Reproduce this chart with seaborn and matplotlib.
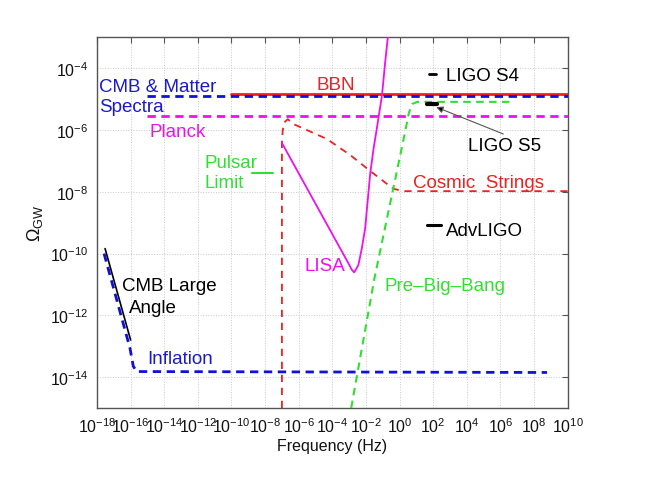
import numpy as np
import pandas as pd
import matplotlib
matplotlib.use("Agg")
import matplotlib.pyplot as plt
import seaborn as sns

# ---- data (log10 values) ----
bbn_logf = [-10.0, 10.0]
bbn_logo = [-4.84, -4.84]

cmb_matter_logf = [-15.0, 10.0]
cmb_matter_logo = [-4.89, -4.89]

planck_logf = [-15.0, 10.0]
planck_logo = [-5.56, -5.56]

pulsar_logf = [-8.8, -7.52]
pulsar_logo = [-7.39, -7.39]

strings_logf = [-7.0, -7.0, -6.95, -6.85, -6.65, -6.31, -4.33, -2.94, -1.65, -0.38, 0.2, 10.0]
strings_logo = [-15.0, -6.4, -6.0, -5.75, -5.65, -5.81, -6.29, -6.81, -7.37, -7.9, -7.98, -7.98]

lisa_logf = [-7.0, -3.04, -2.85, -2.70, -2.45, -2.25, -2.05, -1.75, -1.55, -1.36, -1.05, -0.86, -0.70]
lisa_logo = [-6.42, -10.32, -10.52, -10.61, -10.37, -9.84, -9.19, -7.42, -6.61, -5.97, -4.89, -3.82, -3.0]

pbb_logf = [-2.88, -1.5, 0.04, 0.35, 0.55, 0.75, 1.05, 6.68]
pbb_logo = [-15.0, -10.81, -6.81, -6.0, -5.45, -5.16, -5.09, -5.09]

inflation_logf = [-17.58, -16.04, -15.84, -15.64, 8.77]
inflation_logo = [-10.0, -13.06, -13.65, -13.82, -13.85]

cmb_large_logf = [-17.52, -16.0]
cmb_large_logo = [-9.84, -12.8]

ligo_s4_logf = [1.76, 2.18]
ligo_s4_logo = [-4.19, -4.19]

ligo_s5_logf = [1.66, 2.2]
ligo_s5_logo = [-5.16, -5.16]

advligo_logf = [1.62, 2.46]
advligo_logo = [-9.09, -9.09]

xtick_exps = list(range(-18, 11, 2))
ytick_exps = list(range(-14, -3, 2))

# ---- style ----
sns.set_theme(style="white")
plt.rcParams["font.family"] = ["Liberation Sans", "DejaVu Sans"]
plt.rcParams["mathtext.fontset"] = "custom"
plt.rcParams["mathtext.rm"] = "Liberation Sans"
plt.rcParams["mathtext.it"] = "Liberation Sans:italic"
plt.rcParams["mathtext.bf"] = "Liberation Sans:bold"

RED = "#ee2020"
BLUE = "#1010d8"
MAG = "#ee10ee"
GREEN = "#30e030"
BLACK = "#000000"

fig = plt.figure(figsize=(6.6, 4.85), dpi=100)
ax = fig.add_axes([97 / 660, 76 / 485, 470.7 / 660, 370.7 / 485])
ax.set_xscale("log")
ax.set_yscale("log")


def draw(lf, lo, color, lw, ls="-", z=2):
    df = pd.DataFrame({"f": np.power(10.0, lf), "o": np.power(10.0, lo)})
    sns.lineplot(data=df, x="f", y="o", ax=ax, color=color, linewidth=lw,
                 linestyle=ls, sort=False, estimator=None, zorder=z,
                 legend=False)


draw(bbn_logf, bbn_logo, RED, 2.0, "-", 3)
draw(cmb_matter_logf, cmb_matter_logo, BLUE, 2.0, (0, (3.0, 2.0)), 4)
draw(planck_logf, planck_logo, MAG, 2.0, (0, (3.0, 2.0)), 3)
draw(pulsar_logf, pulsar_logo, GREEN, 1.5, "-", 3)
draw(strings_logf, strings_logo, RED, 1.3, (0, (4.0, 3.2)), 3)
draw(lisa_logf, lisa_logo, MAG, 1.3, "-", 3)
draw(pbb_logf, pbb_logo, GREEN, 1.5, (0, (3.6, 2.6)), 3)
draw(inflation_logf, inflation_logo, BLUE, 2.0, (0, (3.0, 2.0)), 3)
draw(cmb_large_logf, cmb_large_logo, BLACK, 1.2, "-", 4)
draw(ligo_s4_logf, ligo_s4_logo, BLACK, 2.0, "-", 4)
draw(ligo_s5_logf, ligo_s5_logo, BLACK, 3.0, "-", 4)
draw(advligo_logf, advligo_logo, BLACK, 2.2, "-", 4)

ax.set_xlim(1e-18, 1e10)
ax.set_ylim(1e-15, 1e-3)
ax.set_xticks([10.0 ** e for e in xtick_exps])
ax.set_yticks([10.0 ** e for e in ytick_exps])
ax.set_xticklabels([r"$10^{%d}$" % e for e in xtick_exps])
ax.set_yticklabels([r"$10^{%d}$" % e for e in ytick_exps])
ax.minorticks_off()
ax.tick_params(which="major", direction="in", length=4, width=0.8,
               color="#555555", labelsize=11.5, top=True, right=True,
               pad=6, labelcolor="#111111")
for s in ax.spines.values():
    s.set_color("#555555")
    s.set_linewidth(1.0)
ax.grid(True, which="major", linestyle=":", color="#c8c8c8", linewidth=0.7)
ax.set_axisbelow(True)

ax.set_xlabel("Frequency (Hz)", fontsize=11.5, labelpad=2, color="#111111")
ax.set_ylabel(r"$\Omega_{\mathrm{GW}}$", fontsize=13, labelpad=4, color="#111111")

fs = 13.5
def lbl(lf, lo, s, color):
    ax.text(10.0 ** lf, 10.0 ** lo, s, color=color, fontsize=fs,
            ha="left", va="center", zorder=5)

lbl(-17.88, -4.58, "CMB & Matter", "#1a1ac8")
lbl(-17.88, -5.23, "Spectra", "#1a1ac8")
lbl(-4.92, -4.52, "BBN", RED)
lbl(-14.85, -6.04, "Planck", MAG)
lbl(-11.63, -7.06, "Pulsar", GREEN)
lbl(-11.63, -7.71, "Limit", GREEN)
lbl(-5.68, -10.4, "LISA", MAG)
lbl(-0.92, -11.05, "Pre\u2013Big\u2013Bang", GREEN)
lbl(0.79, -7.69, "Cosmic  Strings", RED)
lbl(2.77, -4.23, "LIGO S4", BLACK)
lbl(4.04, -6.5, "LIGO S5", BLACK)
lbl(2.77, -9.25, "AdvLIGO", BLACK)
lbl(-16.49, -11.05, "CMB Large", BLACK)
lbl(-16.08, -11.74, "Angle", BLACK)
lbl(-14.99, -13.39, "Inflation", "#1a1ac8")

ax.annotate("", xy=(10.0 ** 2.18, 10.0 ** -5.26),
            xytext=(10.0 ** 6.17, 10.0 ** -6.13),
            arrowprops=dict(arrowstyle="-|>", color="#666666", lw=0.8,
                            mutation_scale=10, shrinkA=0, shrinkB=0,
                            fc="black", ec="#555555"),
            zorder=5)

fig.savefig("out.png", dpi=100)
